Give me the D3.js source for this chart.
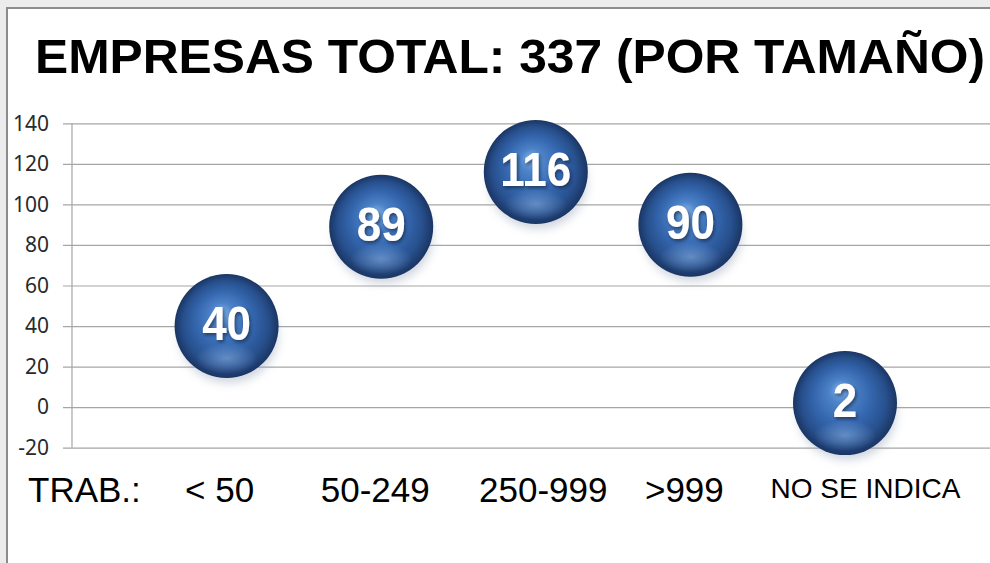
<!DOCTYPE html>
<html><head><meta charset="utf-8">
<script src="https://cdn.jsdelivr.net/npm/d3@7"></script>
<style>html,body{margin:0;padding:0;background:#ececec;overflow:hidden}svg{display:block}</style>
</head><body>
<svg id="c" width="990" height="563"></svg>
<script>
// ---- data ----
const title = "EMPRESAS TOTAL: 337 (POR TAMAÑO)";
const categories = ["< 50", "50-249", "250-999", ">999", "NO SE INDICA"];
const values = [40, 89, 116, 90, 2];
const xValues = [1, 2, 3, 4, 5];
const yTicks = [-20, 0, 20, 40, 60, 80, 100, 120, 140];
const rowLabel = "TRAB.:";

// ---- layout ----
const W = 990, H = 563;
const plot = {left: 72, top: 123.3, bottom: 447.7};
const x = d3.scaleLinear().domain([0, 6]).range([plot.left, plot.left + 6 * 154.6]);
const y = d3.scaleLinear().domain([-20, 140]).range([plot.bottom, plot.top]);
const R = 52;

const svg = d3.select("#c");
const defs = svg.append("defs");

// sphere gradient
const g1 = defs.append("radialGradient").attr("id", "sph")
  .attr("cx", "50%").attr("cy", "50%").attr("r", "50%").attr("fx", "45%").attr("fy", "36%");
[["0%", "#82b0e6"], ["22%", "#4d83c8"], ["55%", "#3466ae"], ["82%", "#274f8c"], ["100%", "#1a3563"]]
  .forEach(([o, c]) => g1.append("stop").attr("offset", o).attr("stop-color", c));
const g2 = defs.append("radialGradient").attr("id", "refl")
  .attr("cx", "50%").attr("cy", "50%").attr("r", "50%");
g2.append("stop").attr("offset", "0%").attr("stop-color", "#8fb6e6").attr("stop-opacity", 0.55);
g2.append("stop").attr("offset", "100%").attr("stop-color", "#8fb6e6").attr("stop-opacity", 0);
const sh = defs.append("filter").attr("id", "blur").attr("x", "-50%").attr("y", "-50%").attr("width", "200%").attr("height", "200%");
sh.append("feGaussianBlur").attr("stdDeviation", 5);
const ts = defs.append("filter").attr("id", "tshadow").attr("x", "-20%").attr("y", "-20%").attr("width", "140%").attr("height", "140%");
ts.append("feDropShadow").attr("dx", 1.5).attr("dy", 2).attr("stdDeviation", 1.5).attr("flood-color", "#0a1a33").attr("flood-opacity", 0.6);

// frame
svg.append("rect").attr("x", 7).attr("y", 8).attr("width", W + 20).attr("height", H + 20)
  .attr("fill", "#ffffff").attr("stroke", "#8c8c8c").attr("stroke-width", 2);

// title
svg.append("text").attr("x", 35).attr("y", 73)
  .attr("font-family", "'Liberation Sans', Arial, sans-serif").attr("font-weight", "bold")
  .attr("font-size", 49).attr("fill", "#000")
  .attr("textLength", 950).attr("lengthAdjust", "spacingAndGlyphs")
  .text(title);

// grid + axis
const yAxis = d3.axisLeft(y).tickValues(yTicks).tickFormat(d => String(d))
  .tickSize(-(W - 63)).tickPadding(14);
const ga = svg.append("g").attr("transform", `translate(${plot.left},0)`).call(yAxis);
ga.select(".domain").remove();
ga.selectAll(".tick line").attr("x1", -9).attr("stroke", "#a6a6a6").attr("stroke-width", 1.2);
ga.selectAll(".tick text").attr("font-family", "'Noto Sans', 'Open Sans', sans-serif")
  .attr("font-size", 21).attr("fill", "#2a2a2a").attr("dx", -9);
svg.append("line").attr("x1", plot.left).attr("x2", plot.left)
  .attr("y1", plot.top).attr("y2", plot.bottom).attr("stroke", "#a6a6a6").attr("stroke-width", 1.2);

// bubbles
const pts = values.map((v, i) => ({v, xv: xValues[i]}));
const bg = svg.append("g").selectAll("g").data(pts).join("g")
  .attr("transform", d => `translate(${x(d.xv)},${y(d.v)})`);
bg.append("ellipse").attr("cx", 2).attr("cy", 10).attr("rx", R * 0.95).attr("ry", R * 0.9)
  .attr("fill", "#8796ad").attr("opacity", 0.4).attr("filter", "url(#blur)");
bg.append("circle").attr("r", R).attr("fill", "url(#sph)");
bg.append("ellipse").attr("cx", 0).attr("cy", R * 0.62).attr("rx", R * 0.6).attr("ry", R * 0.3)
  .attr("fill", "url(#refl)");
bg.append("text").attr("text-anchor", "middle")
  .attr("transform", "translate(0,14) scale(1,1.1)")
  .attr("font-family", "'Liberation Sans', Arial, sans-serif").attr("font-weight", "bold")
  .attr("font-size", 44).attr("fill", "#ffffff").attr("filter", "url(#tshadow)")
  .text(d => d.v);

// category labels
const labelDx = [-7, -6, 7.5, -6, 20.5];
svg.append("g").selectAll("text").data(categories).join("text")
  .attr("x", (d, i) => x(xValues[i]) + labelDx[i])
  .attr("y", (d, i) => i === 4 ? 498 : 502)
  .attr("text-anchor", "middle")
  .attr("font-family", "'Liberation Sans', Arial, sans-serif")
  .attr("font-size", (d, i) => i === 4 ? 28 : 35)
  .attr("fill", "#000")
  .text(d => d);
svg.append("text").attr("x", 28).attr("y", 502)
  .attr("font-family", "'Liberation Sans', Arial, sans-serif").attr("font-size", 35)
  .attr("fill", "#000").text(rowLabel);
</script>
</body></html>
